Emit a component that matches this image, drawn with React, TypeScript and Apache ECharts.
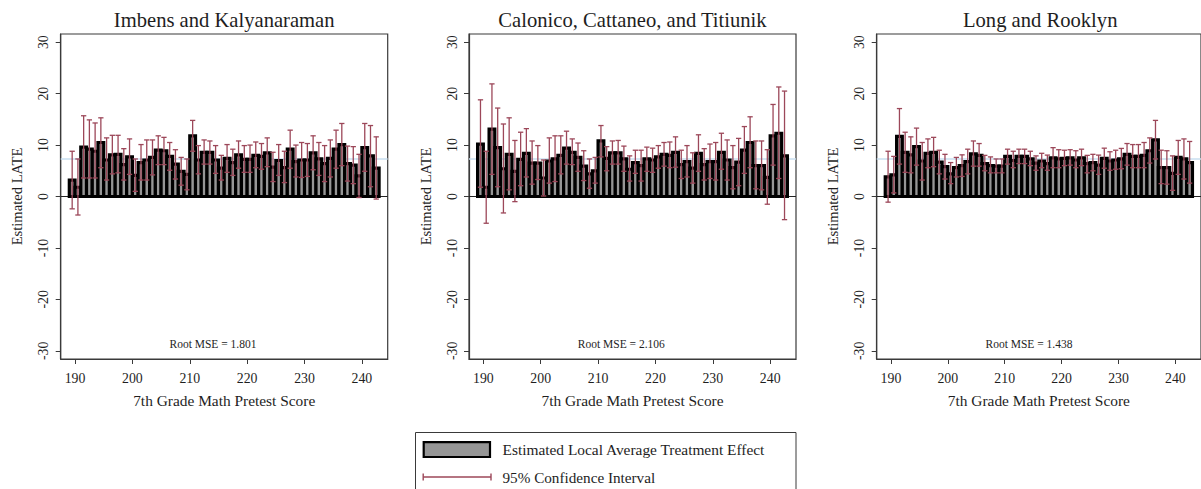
import React, { useEffect, useRef } from "react";
import * as echarts from "echarts";

// ---------- DATA ----------
const X_POS = [
  189.5, 190.5, 191.5, 192.5, 193.5, 194.5, 195.5, 196.5, 197.5, 198.5,
  199.5, 200.5, 201.5, 202.5, 203.5, 204.5, 205.5, 206.5, 207.5, 208.5,
  209.5, 210.5, 211.5, 212.5, 213.5, 214.5, 215.5, 216.5, 217.5, 218.5,
  219.5, 220.5, 221.5, 222.5, 223.5, 224.5, 225.5, 226.5, 227.5, 228.5,
  229.5, 230.5, 231.5, 232.5, 233.5, 234.5, 235.5, 236.5, 237.5, 238.5,
  239.5, 240.5, 241.5, 242.5,
];
const X_TICKS = [190, 200, 210, 220, 230, 240];
const Y_TICKS = [-30, -20, -10, 0, 10, 20, 30];
const REF_LATE = 7.3;

const IK_EST = [3.2, 1.8, 9.6, 9.2, 8.8, 10.5, 7.1, 8.1, 8.2, 6.2, 7.7, 4.1, 6.6, 7.1, 7.6, 9.0, 8.9, 7.8, 6.3, 4.9, 4.3, 11.8, 7.1, 8.6, 8.6, 7.1, 5.5, 7.4, 6.6, 8.1, 7.2, 7.2, 8.0, 7.8, 8.5, 5.7, 7.0, 5.6, 9.2, 6.8, 7.1, 7.1, 8.5, 7.3, 6.4, 7.4, 9.2, 10.1, 6.4, 6.1, 4.0, 9.5, 7.9, 5.5];
const IK_LO = [-2.4, -3.6, 3.6, 3.6, 3.6, 5.6, 3.2, 4.4, 4.6, 3.2, 4.3, 1.0, 3.2, 3.2, 4.2, 6.2, 6.2, 5.1, 3.4, 2.2, 1.3, 8.8, 4.4, 6.3, 6.3, 4.5, 3.2, 4.7, 4.1, 5.5, 4.7, 4.7, 5.6, 5.3, 5.8, 2.9, 4.1, 2.7, 5.5, 3.8, 3.7, 3.9, 5.2, 4.1, 2.9, 3.8, 5.5, 6.0, 3.0, 2.5, -0.2, 4.9, 1.9, -0.5];
const IK_HI = [8.8, 7.3, 15.7, 14.9, 14.3, 15.3, 11.4, 11.9, 11.9, 9.3, 11.2, 7.3, 10.1, 11.0, 11.0, 11.8, 11.5, 10.5, 9.1, 7.6, 7.3, 14.8, 9.9, 11.0, 10.8, 9.9, 8.0, 10.1, 9.2, 10.8, 9.9, 10.0, 10.6, 10.3, 11.4, 8.6, 10.1, 8.8, 12.9, 10.0, 10.5, 10.3, 11.8, 10.5, 9.9, 11.0, 12.9, 14.2, 9.8, 9.7, 8.2, 14.2, 13.8, 11.6];

const CCT_EST = [10.2, 1.8, 13.1, 9.5, 5.4, 8.2, 4.9, 7.2, 8.4, 6.5, 6.5, 3.6, 6.9, 7.3, 8.0, 9.4, 8.6, 7.6, 5.9, 4.4, 5.0, 10.8, 7.4, 8.5, 8.5, 7.3, 5.3, 6.6, 6.0, 7.3, 7.1, 7.7, 8.2, 8.0, 8.6, 6.2, 6.8, 5.5, 8.4, 6.2, 6.8, 6.8, 8.6, 7.1, 5.6, 6.7, 9.0, 10.5, 6.0, 6.0, 3.7, 11.8, 12.3, 7.9];
const CCT_LO = [1.8, -5.2, 4.3, 1.9, -3.2, 1.3, -1.0, 2.1, 3.8, 2.4, 3.3, 0.1, 2.6, 2.9, 4.4, 6.3, 6.2, 4.9, 3.1, 1.6, 2.6, 7.7, 5.0, 6.3, 6.3, 4.9, 3.0, 4.5, 3.0, 4.9, 4.7, 5.5, 5.9, 5.6, 5.7, 3.5, 3.8, 2.6, 4.9, 3.2, 3.5, 3.2, 5.3, 3.2, 1.5, 2.1, 4.5, 5.6, 1.5, 1.3, -1.5, 6.1, 3.5, -4.5];
const CCT_HI = [18.8, 8.8, 21.9, 17.2, 14.1, 15.3, 10.9, 12.5, 13.2, 10.8, 9.9, 7.1, 11.4, 11.8, 11.8, 12.7, 11.2, 10.4, 8.9, 7.3, 7.6, 13.8, 9.7, 10.8, 10.9, 9.8, 7.9, 9.0, 9.0, 9.6, 9.4, 9.9, 10.5, 10.6, 11.6, 9.0, 9.9, 8.5, 12.0, 9.3, 10.2, 10.5, 12.3, 11.0, 9.9, 11.3, 13.6, 15.5, 10.8, 10.8, 9.1, 17.9, 21.3, 20.5];

const LR_EST = [3.8, 4.2, 11.7, 8.6, 8.1, 9.7, 6.9, 8.4, 8.6, 6.7, 5.8, 4.4, 5.6, 6.0, 6.8, 8.3, 8.0, 6.4, 6.0, 5.9, 5.9, 7.8, 7.0, 7.8, 7.8, 7.3, 6.5, 6.9, 6.4, 7.5, 7.3, 7.4, 7.5, 7.1, 7.5, 6.4, 6.6, 6.1, 7.4, 6.9, 7.1, 7.3, 8.2, 7.8, 7.8, 8.0, 8.9, 11.0, 5.6, 5.6, 4.5, 7.6, 7.3, 6.6];
const LR_LO = [-1.1, 0.7, 6.3, 4.7, 4.6, 6.1, 3.2, 5.6, 5.8, 4.4, 3.4, 2.5, 3.8, 3.9, 4.4, 5.9, 5.9, 5.0, 4.6, 4.6, 4.6, 6.3, 5.6, 6.4, 6.4, 6.0, 5.1, 5.6, 5.1, 5.6, 5.6, 6.0, 6.1, 5.6, 6.0, 4.6, 5.0, 4.3, 5.5, 5.1, 5.3, 5.4, 6.1, 5.6, 5.6, 5.6, 6.5, 7.3, 2.5, 2.4, 1.2, 4.3, 3.4, 2.6];
const LR_HI = [8.8, 7.8, 17.1, 12.5, 11.6, 13.3, 10.5, 11.2, 11.5, 9.0, 8.2, 6.6, 7.6, 8.1, 9.2, 10.8, 10.3, 8.0, 7.7, 7.3, 7.3, 9.2, 8.8, 9.2, 9.2, 8.8, 7.9, 8.4, 8.05, 9.5, 9.1, 9.0, 9.1, 8.9, 9.2, 8.0, 8.2, 8.05, 9.4, 8.7, 9.0, 9.35, 10.3, 10.1, 10.1, 10.5, 11.4, 14.8, 9.0, 8.9, 7.9, 10.9, 11.2, 10.7];

const TITLES = ["Imbens and Kalyanaraman", "Calonico, Cattaneo, and Titiunik", "Long and Rooklyn"];
const RMSE_LABELS = ["Root MSE = 1.801", "Root MSE = 2.106", "Root MSE = 1.438"];
const PANELS = [
  { est: IK_EST, lo: IK_LO, hi: IK_HI },
  { est: CCT_EST, lo: CCT_LO, hi: CCT_HI },
  { est: LR_EST, lo: LR_LO, hi: LR_HI },
];
const X_NAME = "7th Grade Math Pretest Score";
const Y_NAME = "Estimated LATE";
const LEGEND_BAR = "Estimated Local Average Treatment Effect";
const LEGEND_CI = "95% Confidence Interval";

// ---------- STYLE / LAYOUT ----------
const FONT = "'Liberation Serif', 'Times New Roman', serif";
const TEXT = "#1e1e1e";
const FRAME = "#3a3a3a";
const BAR_FILL = "#969696";
const CI_COLOR = "#9c4759";
const REF_COLOR = "#c9dff0";
const GRID_LEFTS = [60.7, 469, 876.7];
const GRID_TOP = 34;
const GRID_W = 327;
const GRID_H = 325;
const X_MIN = 187.5;
const X_MAX = 244.5;
const Y_MIN = -31.6;
const Y_MAX = 31.6;
const BAR_HALF = 0.5;
const CAP_HALF = 0.46;

export default function App() {
  const ref = useRef<HTMLDivElement>(null);

  useEffect(() => {
    if (!ref.current) return;
    const chart = echarts.init(ref.current, null, { renderer: "svg" });

    const grids = GRID_LEFTS.map((l) => ({
      left: l,
      top: GRID_TOP,
      width: GRID_W,
      height: GRID_H,
      show: true,
      borderColor: FRAME,
      borderWidth: 1.2,
      backgroundColor: "transparent",
    }));

    const xAxes = GRID_LEFTS.map((_, i) => ({
      type: "value",
      gridIndex: i,
      min: X_MIN,
      max: X_MAX,
      axisLine: { show: true, onZero: false, lineStyle: { color: FRAME, width: 1.2 } },
      axisTick: { show: true, length: 5, customValues: X_TICKS, lineStyle: { color: FRAME, width: 1 } },
      axisLabel: { customValues: X_TICKS, margin: 12, fontSize: 13.8, fontFamily: FONT, color: TEXT },
      splitLine: { show: false },
      name: X_NAME,
      nameLocation: "middle",
      nameGap: 34,
      nameTextStyle: { fontSize: 15.4, fontFamily: FONT, color: TEXT },
    }));

    const yAxes = GRID_LEFTS.map((_, i) => ({
      type: "value",
      gridIndex: i,
      min: Y_MIN,
      max: Y_MAX,
      axisLine: { show: true, onZero: false, lineStyle: { color: FRAME, width: 1.2 } },
      axisTick: { show: true, length: 5, customValues: Y_TICKS, lineStyle: { color: FRAME, width: 1 } },
      axisLabel: { customValues: Y_TICKS, rotate: 90, margin: 10, fontSize: 13.8, fontFamily: FONT, color: TEXT },
      splitLine: { show: false },
      name: Y_NAME,
      nameLocation: "middle",
      nameRotate: 90,
      nameGap: 36,
      nameTextStyle: { fontSize: 14.6, fontFamily: FONT, color: TEXT },
    }));

    const series: any[] = [];
    PANELS.forEach((p, i) => {
      // reference lines (LATE level and zero baseline)
      series.push({
        type: "custom",
        xAxisIndex: i,
        yAxisIndex: i,
        z: 1,
        silent: true,
        data: [[REF_LATE, 0], [0, 1]],
        renderItem: (params: any, api: any) => {
          const v = api.value(0);
          const kind = api.value(1);
          const y = api.coord([X_MIN, v])[1];
          const cs = params.coordSys;
          return {
            type: "line",
            shape: { x1: cs.x, y1: y, x2: cs.x + cs.width, y2: y },
            style: kind === 0 ? { stroke: REF_COLOR, lineWidth: 1.6 } : { stroke: "#222", lineWidth: 1.1 },
          };
        },
      });
      // bars
      series.push({
        type: "custom",
        name: LEGEND_BAR,
        xAxisIndex: i,
        yAxisIndex: i,
        z: 2,
        clip: true,
        encode: { x: 0, y: 1 },
        data: X_POS.map((x, j) => [x, p.est[j]]),
        renderItem: (_params: any, api: any) => {
          const x = api.value(0);
          const v = api.value(1);
          const a = api.coord([x - BAR_HALF, 0]);
          const b = api.coord([x + BAR_HALF, v]);
          return {
            type: "rect",
            shape: { x: a[0], y: Math.min(a[1], b[1]), width: b[0] - a[0], height: Math.abs(a[1] - b[1]) },
            style: { fill: BAR_FILL, stroke: "#000", lineWidth: 3.2 },
          };
        },
      });
      // confidence intervals
      series.push({
        type: "custom",
        name: LEGEND_CI,
        xAxisIndex: i,
        yAxisIndex: i,
        z: 3,
        clip: true,
        encode: { x: 0, y: [1, 2] },
        data: X_POS.map((x, j) => [x, p.lo[j], p.hi[j]]),
        renderItem: (_params: any, api: any) => {
          const x = api.value(0);
          const pl = api.coord([x, api.value(1)]);
          const ph = api.coord([x, api.value(2)]);
          const cap = api.size([CAP_HALF * 2, 0])[0] / 2;
          const st = { stroke: CI_COLOR, lineWidth: 1.3 };
          return {
            type: "group",
            children: [
              { type: "line", shape: { x1: pl[0], y1: pl[1], x2: ph[0], y2: ph[1] }, style: st },
              { type: "line", shape: { x1: ph[0] - cap, y1: ph[1], x2: ph[0] + cap, y2: ph[1] }, style: st },
              { type: "line", shape: { x1: pl[0] - cap, y1: pl[1], x2: pl[0] + cap, y2: pl[1] }, style: st },
            ],
          };
        },
      });
    });

    const graphics: any[] = [];
    GRID_LEFTS.forEach((l, i) => {
      graphics.push({
        type: "text",
        x: l + GRID_W / 2,
        y: 19.5,
        style: { text: TITLES[i], fontSize: 20.6, fontFamily: FONT, fill: TEXT, textAlign: "center", textVerticalAlign: "middle" },
      });
      graphics.push({
        type: "text",
        x: l + 152.3,
        y: 344,
        style: { text: RMSE_LABELS[i], fontSize: 11.5, fontFamily: FONT, fill: TEXT, textAlign: "center", textVerticalAlign: "middle" },
      });
    });
    // legend box
    graphics.push({ type: "rect", shape: { x: 415.5, y: 432.5, width: 380.5, height: 70 }, style: { fill: "#fff", stroke: FRAME, lineWidth: 1 } });
    graphics.push({ type: "rect", shape: { x: 423.7, y: 442.2, width: 66.3, height: 14.8 }, style: { fill: BAR_FILL, stroke: "#000", lineWidth: 2.2 } });
    graphics.push({ type: "text", x: 502.5, y: 449.5, style: { text: LEGEND_BAR, fontSize: 15.4, fontFamily: FONT, fill: TEXT, textAlign: "left", textVerticalAlign: "middle" } });
    graphics.push({ type: "line", shape: { x1: 423.2, y1: 477, x2: 491, y2: 477 }, style: { stroke: CI_COLOR, lineWidth: 1.4 } });
    graphics.push({ type: "line", shape: { x1: 423.2, y1: 473.5, x2: 423.2, y2: 480.5 }, style: { stroke: CI_COLOR, lineWidth: 1.4 } });
    graphics.push({ type: "line", shape: { x1: 491, y1: 473.5, x2: 491, y2: 480.5 }, style: { stroke: CI_COLOR, lineWidth: 1.4 } });
    graphics.push({ type: "text", x: 502.5, y: 477, style: { text: LEGEND_CI, fontSize: 15.2, fontFamily: FONT, fill: TEXT, textAlign: "left", textVerticalAlign: "middle" } });

    chart.setOption({
      animation: false,
      backgroundColor: "#fff",
      grid: grids,
      xAxis: xAxes,
      yAxis: yAxes,
      series,
      graphic: graphics,
    });

    return () => chart.dispose();
  }, []);

  return (
    <div
      ref={ref}
      style={{ position: "absolute", left: 0, top: 0, width: 1201, height: 489, background: "#fff" }}
    />
  );
}
